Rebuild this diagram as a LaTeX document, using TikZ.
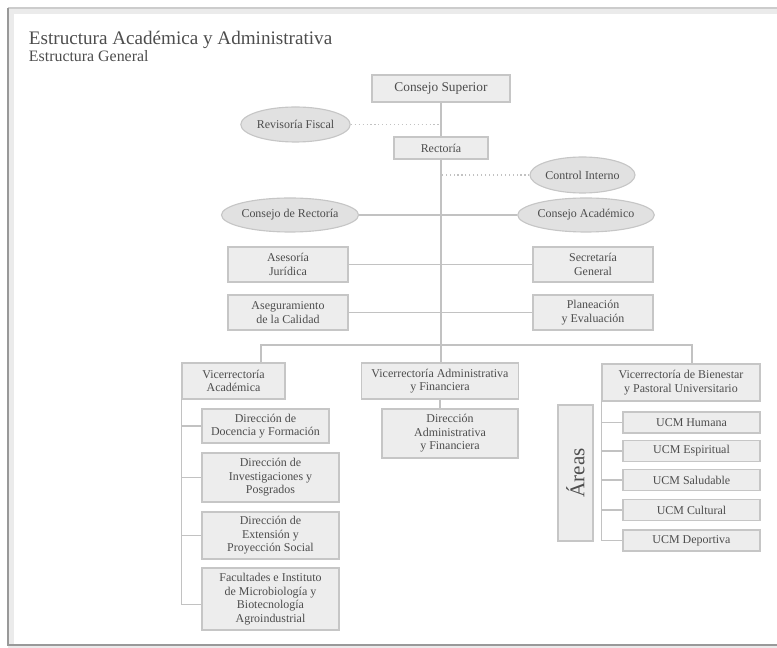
\documentclass[tikz,border=0pt]{standalone}
\usepackage{fontspec}
\setmainfont{Liberation Serif}
\usetikzlibrary{shapes.geometric, calc}

\definecolor{cajafondo}{HTML}{EDEDED}
\definecolor{cajaborde}{HTML}{C6C6C6}
\definecolor{texto}{HTML}{4D4D4D}
\definecolor{linea}{HTML}{C2C2C2}

\tikzset{
  caja/.style 2 args={draw=cajaborde, fill=cajafondo, line width=0.8pt, text=texto,
    align=center, inner sep=1pt, font=\fontsize{8.5}{9.6}\selectfont,
    minimum width=#1*0.025cm, minimum height=#2*0.025cm},
  ovalo/.style 2 args={ellipse, draw=cajaborde, fill=cajafondo!95!black, line width=0.8pt,
    text=texto, inner sep=0pt, font=\fontsize{8.5}{9.6}\selectfont,
    minimum width=#1*0.025cm, minimum height=#2*0.025cm},
  conector/.style={draw=linea, line width=1pt},
  punteado/.style={draw=linea, line width=0.8pt, dotted}
}

\begin{document}
\begin{tikzpicture}[x=0.025cm, y=-0.025cm]
  \useasboundingbox (0,0) rectangle (777,648);
  % marco
  \draw[black!8, line width=4pt] (11,11) rectangle (800,648);
  \draw[black!20, line width=0.8pt] (8,8) -- (800,8);
  \draw[black!40, line width=1pt] (8,8) -- (8,645) -- (800,645);

  \node[anchor=west, text=texto, font=\fontsize{13.6}{15}\selectfont] (titulo) at (24,40) {Estructura Académica y Administrativa};
  \node[anchor=west, text=texto, font=\fontsize{11.3}{12}\selectfont] (subtitulo) at (24,56) {Estructura General};

  \node[caja={138}{27}, font=\fontsize{9.5}{11}\selectfont] (cs) at (441,88.5) {Consejo Superior};
  \node[ovalo={105}{35}] (rf) at (295.5,124.5) {Revisoría Fiscal};
  \node[caja={94}{22}] (rec) at (441,148) {Rectoría};
  \node[ovalo={105}{36}] (ci) at (582.5,175) {Control Interno};
  \node[ovalo={120}{34}] (cr) at (290,215) {Consejo de Rectoría};
  \node[ovalo={112}{34}] (ca) at (586,215) {Consejo Académico};
  \node[caja={120}{35}] (aj) at (288,264.5) {Asesoría\\Jurídica};
  \node[caja={120}{35}] (sg) at (593,264.5) {Secretaría\\General};
  \node[caja={120}{35}] (aseg) at (288,312.5) {Aseguramiento\\de la Calidad};
  \node[caja={120}{35}] (pe) at (593,312.5) {Planeación\\y Evaluación};

  \node[caja={103}{36}] (va) at (233.5,381) {Vicerrectoría\\Académica};
  \node[caja={157}{36}] (vaf) at (440,381) {Vicerrectoría Administrativa\\y Financiera};
  \node[caja={158}{37}] (vb) at (681,382.5) {Vicerrectoría de Bienestar\\y Pastoral Universitario};

  \node[caja={127}{34}] (doc) at (265.5,426) {Dirección de\\Docencia y Formación};
  \node[caja={137}{49}] (inv) at (270.5,477.5) {Dirección de\\Investigaciones y\\Posgrados};
  \node[caja={137}{47}] (ext) at (270.5,535.5) {Dirección de\\Extensión y\\Proyección Social};
  \node[caja={137}{62}] (fac) at (270.5,599) {Facultades e Instituto\\de Microbiología y\\Biotecnología\\Agroindustrial};

  \node[caja={136}{49}] (daf) at (450,433.5) {Dirección\\Administrativa\\y Financiera};

  \node[caja={35}{136}] (areas) at (575.5,473) {};
  \node[rotate=90, text=texto, font=\fontsize{15}{17}\selectfont] (areastxt) at (areas) {Áreas};
  \node[caja={137}{21}] (hum) at (691.5,422.5) {UCM Humana};
  \node[caja={137}{21}] (esp) at (691.5,451) {UCM Espiritual};
  \node[caja={137}{21}] (sal) at (691.5,480) {UCM Saludable};
  \node[caja={137}{21}] (cul) at (691.5,510) {UCM Cultural};
  \node[caja={137}{21}] (dep) at (691.5,540.5) {UCM Deportiva};

  \coordinate (bl) at (261,345);
  \coordinate (br) at (692,345);

  \draw[conector] (cs) -- (rec);
  \draw[conector] (rec) -- (rec |- vaf.north);
  \draw[punteado] (rf) -- (rf -| cs);
  \draw[punteado] (ci) -- (ci -| rec);
  \draw[conector] (cr) -- (ca);
  \draw[conector] (aj) -- (sg);
  \draw[conector] (aseg) -- (pe);
  \draw[conector] (bl |- va.north) -- (bl) -- (br) -- (br |- vb.north);
  \draw[conector] (vaf.south) -- (vaf.south |- daf.north);

  \foreach \n in {doc, inv, ext}{
    \draw[conector] (va.south west) |- (\n.west);
  }
  \draw[conector] (va.south west) |- ([yshift=-4pt]fac.west);
  \foreach \n in {hum, esp, sal, cul, dep}{
    \draw[conector] (vb.south west) |- (\n.west);
  }
\end{tikzpicture}
\end{document}
